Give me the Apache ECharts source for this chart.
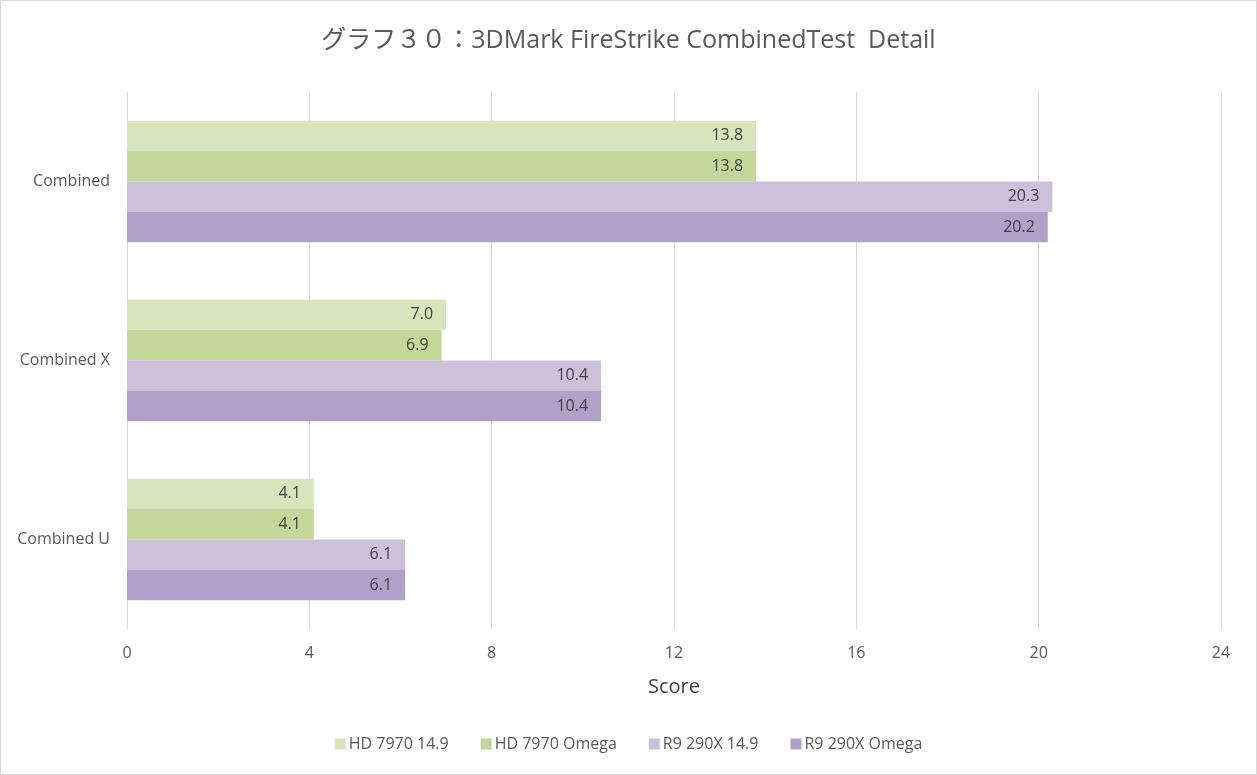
<!DOCTYPE html>
<html>
<head>
<meta charset="utf-8">
<script src="https://cdn.jsdelivr.net/npm/echarts@6/dist/echarts.min.js"></script>
<style>
  html, body { margin: 0; padding: 0; background: #fff; }
  #chart { width: 1257px; height: 775px; box-sizing: border-box; border: 1px solid #d9d9d9; }
</style>
</head>
<body>
<div id="chart"></div>
<script>
const categories = ["Combined", "Combined X", "Combined U"];
const seriesNames = ["HD 7970 14.9", "HD 7970 Omega", "R9 290X 14.9", "R9 290X Omega"];
const hd7970_149 = [13.8, 7.0, 4.1];
const hd7970_omega = [13.8, 6.9, 4.1];
const r9290x_149 = [20.3, 10.4, 6.1];
const r9290x_omega = [20.2, 10.4, 6.1];
const colors = ["#d8e4bc", "#c4d79b", "#ccc0da", "#b1a0c7"];

const font = '"Open Sans", "Noto Sans", sans-serif';
const chart = echarts.init(document.getElementById("chart"));

const allData = [hd7970_149, hd7970_omega, r9290x_149, r9290x_omega];

chart.setOption({
    animation: false,
    textStyle: { fontFamily: font },
    title: {
        text: "グラフ３０：3DMark FireStrike CombinedTest  Detail",
        left: "center",
        top: 22,
        textStyle: {
            fontFamily: '"Open Sans", "Noto Sans CJK JP", sans-serif',
            fontSize: 25,
            fontWeight: "normal",
            color: "#595959",
        },
    },
    legend: {
        bottom: 17,
        left: "center",
        itemWidth: 11,
        itemHeight: 11,
        itemGap: 32,
        icon: "rect",
        textStyle: { fontSize: 16, color: "#595959", padding: [0, 0, 0, -2] },
        data: seriesNames,
    },
    grid: { left: 126, right: 35, top: 91, bottom: 145 },
    xAxis: {
        type: "value",
        min: 0,
        max: 24,
        interval: 4,
        name: "Score",
        nameLocation: "middle",
        nameGap: 48,
        nameTextStyle: { fontSize: 20, color: "#404040" },
        axisLine: { show: false },
        axisTick: { show: false },
        axisLabel: { fontSize: 16, color: "#595959", margin: 16 },
        splitLine: { lineStyle: { color: "#d9d9d9", width: 1 } },
    },
    yAxis: {
        type: "category",
        data: categories,
        inverse: true,
        axisLine: { show: false },
        axisTick: { show: false },
        axisLabel: { fontSize: 16, color: "#595959", margin: 17 },
    },
    series: seriesNames.map((name, i) => ({
        name: name,
        type: "bar",
        data: allData[i],
        barGap: "0%",
        barCategoryGap: "32%",
        itemStyle: { color: colors[i] },
        label: {
            show: true,
            position: "insideRight",
            distance: 13,
            fontSize: 16,
            color: "#404040",
            formatter: (p) => p.value.toFixed(1),
        },
    })),
});
</script>
</body>
</html>
